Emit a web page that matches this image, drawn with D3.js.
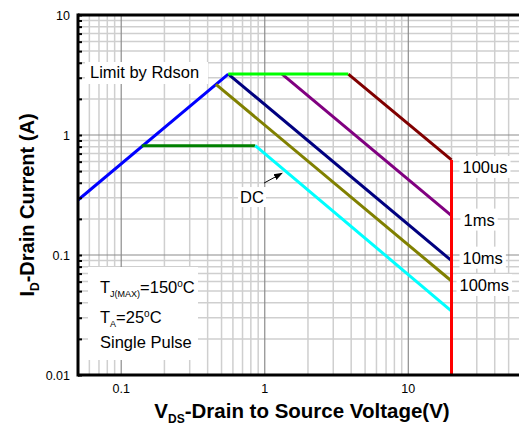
<!DOCTYPE html>
<html>
<head>
<meta charset="utf-8">
<script src="https://cdn.jsdelivr.net/npm/d3@7"></script>
<style>
  html, body { margin: 0; padding: 0; background: #fff; }
  svg { display: block; font-family: "Liberation Sans", Arial, sans-serif; }
</style>
</head>
<body>
<svg id="chart" width="519" height="430"></svg>
<script>
// Safe operating area: drain current vs drain-source voltage (log-log)
const xTickValues = [0.1, 1, 10];
const xTickLabels = ["0.1", "1", "10"];
const yTickValues = [0.01, 0.1, 1, 10];
const yTickLabels = ["0.01", "0.1", "1", "10"];

// Boundary segments as [V_DS (V), I_D (A)] pairs
const rdsonLimit   = [[0.05, 0.287], [0.557, 3.22]];
const currentLimit = [[0.557, 3.22], [3.82, 3.22]];
const pulse100us   = [[3.82, 3.22], [20, 0.62]];
const pulse1ms     = [[1.32, 3.22], [20, 0.213]];
const pulse10ms    = [[0.557, 3.22], [20, 0.0897]];
const pulse100ms   = [[0.457, 2.645], [20, 0.0607]];
const dcFlat       = [[0.139, 0.815], [0.859, 0.815]];
const dcSlope      = [[0.859, 0.815], [20, 0.0341]];
const bvdssLimit   = [[20, 0.62], [20, 0.01]];

const seriesNames  = ["100us", "1ms", "10ms", "100ms"];

const svg = d3.select("#chart");
const pL = 78, pR = 520, pT = 15, pB = 375;
const annoSize = 16.5;

const x = d3.scaleLog().domain([0.05, 60]).range([pL, pR]);
const y = d3.scaleLog().domain([0.01, 10]).range([pB, pT]);

const defs = svg.append("defs");
defs.append("clipPath").attr("id", "plot-clip")
  .append("rect").attr("x", pL).attr("y", pT)
  .attr("width", pR - pL).attr("height", pB - pT);
defs.append("marker").attr("id", "arrowhead")
  .attr("viewBox", "0 0 10 10").attr("refX", 9).attr("refY", 5)
  .attr("markerWidth", 9).attr("markerHeight", 9).attr("markerUnits", "userSpaceOnUse")
  .attr("orient", "auto")
  .append("path").attr("d", "M0,1.5 L10,5 L0,8.5 Z").attr("fill", "#000");

// Grid: minor lines at 2..9 of every decade, major lines at the decades
const xMinor = [], yMinor = [];
for (let d = -2; d <= 1; d++) {
  for (let m = 1; m <= 9; m++) {
    const v = m * Math.pow(10, d);
    if (m > 1 && v > 0.05 && v < 60) xMinor.push(v);
    if (m > 1 && v > 0.01 && v < 10) yMinor.push(v);
  }
}
const grid = svg.append("g").attr("clip-path", "url(#plot-clip)");
grid.selectAll(".xminor").data(xMinor).join("line")
  .attr("x1", d => x(d)).attr("x2", d => x(d)).attr("y1", pT).attr("y2", pB)
  .attr("stroke", "#cfcfcf").attr("stroke-width", 1.5);
grid.selectAll(".yminor").data(yMinor).join("line")
  .attr("y1", d => y(d)).attr("y2", d => y(d)).attr("x1", pL).attr("x2", pR)
  .attr("stroke", "#cfcfcf").attr("stroke-width", 1.5);
grid.selectAll(".xmajor").data(xTickValues).join("line")
  .attr("x1", d => x(d)).attr("x2", d => x(d)).attr("y1", pT).attr("y2", pB)
  .attr("stroke", "#8c8c8c").attr("stroke-width", 1.2);
grid.selectAll(".ymajor").data(yTickValues).join("line")
  .attr("y1", d => y(d)).attr("y2", d => y(d)).attr("x1", pL).attr("x2", pR)
  .attr("stroke", "#8c8c8c").attr("stroke-width", 1.2);

// Text boxes sit over the grid
function boxedText(g, tx, ty, str, size, pad) {
  const t = g.append("text").attr("x", tx).attr("y", ty)
    .attr("font-size", size).attr("fill", "#000").text(str);
  const b = t.node().getBBox();
  g.insert("rect", "text").attr("x", b.x - pad).attr("y", b.y - pad + 1)
    .attr("width", b.width + 2 * pad).attr("height", b.height + 2 * pad - 2)
    .attr("fill", "#fff");
  return t;
}

// "Limit by Rdson" caption
const capG = svg.append("g");
capG.append("rect").attr("x", 85).attr("y", 62).attr("width", 123).attr("height", 22).attr("fill", "#fff");
capG.append("text").attr("x", 90).attr("y", 78).attr("font-size", annoSize).text("Limit by Rdson");

// Conditions box
const condG = svg.append("g");
condG.append("rect").attr("x", 88).attr("y", 267).attr("width", 110).attr("height", 93).attr("fill", "#fff");
const c1 = condG.append("text").attr("x", 100).attr("y", 293).attr("font-size", annoSize);
c1.append("tspan").text("T");
c1.append("tspan").attr("font-size", 9).attr("dy", 4).text("J(MAX)");
c1.append("tspan").attr("dy", -4).text("=150");
c1.append("tspan").attr("font-size", 10).attr("dy", -6).text("o");
c1.append("tspan").attr("dy", 6).text("C");
const c2 = condG.append("text").attr("x", 100).attr("y", 323).attr("font-size", annoSize);
c2.append("tspan").text("T");
c2.append("tspan").attr("font-size", 9).attr("dy", 4).text("A");
c2.append("tspan").attr("dy", -4).text("=25");
c2.append("tspan").attr("font-size", 10).attr("dy", -6).text("o");
c2.append("tspan").attr("dy", 6).text("C");
condG.append("text").attr("x", 100).attr("y", 348).attr("font-size", annoSize).text("Single Pulse");

// Boundary lines
const line = d3.line().x(d => x(d[0])).y(d => y(d[1]));
const curves = [
  [rdsonLimit, "#0000ff"],
  [dcFlat, "#008000"],
  [dcSlope, "#00ffff"],
  [pulse100ms, "#808000"],
  [pulse10ms, "#000080"],
  [pulse1ms, "#800080"],
  [pulse100us, "#800000"],
  [currentLimit, "#00ff00"],
  [bvdssLimit, "#ff0000"]
];
const curveG = svg.append("g").attr("clip-path", "url(#plot-clip)");
curves.forEach(([pts, col]) => {
  curveG.append("path").datum(pts).attr("d", line)
    .attr("fill", "none").attr("stroke", col).attr("stroke-width", 3)
    .attr("stroke-linecap", "butt");
});

// Pulse-width labels next to each curve end
const labelG = svg.append("g");
const ends = [pulse100us, pulse1ms, pulse10ms, pulse100ms];
const labelDy = [7, 4, -3, 4];
const labelDx = [11, 12, 11, 8];
ends.forEach((pts, i) => {
  const e = pts[pts.length - 1];
  boxedText(labelG, x(e[0]) + labelDx[i], y(e[1]) + labelDy[i] + 6, seriesNames[i], annoSize, 3);
});

// DC label with arrow to the DC curve
const dcAnchor = [0.673, 0.271];
const dcTip = [1.32, 0.48];
boxedText(labelG, x(dcAnchor[0]), y(dcAnchor[1]), "DC", annoSize, 2);
labelG.append("line")
  .attr("x1", x(dcAnchor[0]) + 24).attr("y1", y(dcAnchor[1]) - 20)
  .attr("x2", x(dcTip[0])).attr("y2", y(dcTip[1]))
  .attr("stroke", "#000").attr("stroke-width", 1)
  .attr("marker-end", "url(#arrowhead)");

// Frame: heavy left, top and bottom edges
const frame = svg.append("g");
frame.append("line").attr("x1", pL).attr("x2", pL).attr("y1", pT - 1.5).attr("y2", pB + 1.5)
  .attr("stroke", "#000").attr("stroke-width", 3);
frame.append("line").attr("x1", pL).attr("x2", 519).attr("y1", pT).attr("y2", pT)
  .attr("stroke", "#000").attr("stroke-width", 3);
frame.append("line").attr("x1", pL).attr("x2", 519).attr("y1", pB).attr("y2", pB)
  .attr("stroke", "#000").attr("stroke-width", 3);

// Inward ticks on the current axis
const yAxis = d3.axisRight(y).tickValues(yTickValues.concat(yMinor)).tickSize(4).tickFormat("");
svg.append("g").attr("transform", `translate(${pL},0)`).call(yAxis)
  .call(g => g.select(".domain").remove())
  .call(g => g.selectAll(".tick line").attr("stroke", "#000").attr("stroke-width", 2));

// Tick labels
svg.append("g").selectAll("text").data(yTickValues).join("text")
  .attr("x", 70).attr("y", d => y(d) + 4.5).attr("text-anchor", "end")
  .attr("font-size", 12.5).text((d, i) => yTickLabels[i]);
svg.append("g").selectAll("text").data(xTickValues).join("text")
  .attr("x", d => x(d)).attr("y", 393).attr("text-anchor", "middle")
  .attr("font-size", 12.5).text((d, i) => xTickLabels[i]);

// Axis titles
const xt = svg.append("text").attr("x", 302).attr("y", 418).attr("text-anchor", "middle")
  .attr("font-size", 20.5).attr("font-weight", "bold");
xt.append("tspan").text("V");
xt.append("tspan").attr("font-size", 12).attr("dy", 5).text("DS");
xt.append("tspan").attr("dy", -5).text("-Drain to Source Voltage(V)");

const yt = svg.append("text").attr("transform", "translate(34,205) rotate(-90)")
  .attr("text-anchor", "middle").attr("font-size", 20).attr("font-weight", "bold");
yt.append("tspan").text("I");
yt.append("tspan").attr("font-size", 12).attr("dy", 5).text("D");
yt.append("tspan").attr("dy", -5).text("-Drain Current (A)");
</script>
</body>
</html>
